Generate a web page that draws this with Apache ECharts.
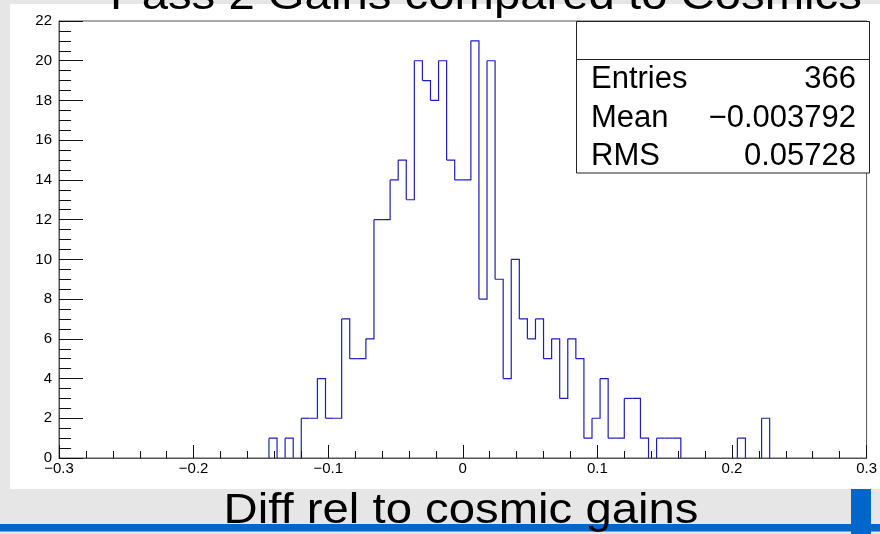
<!DOCTYPE html>
<html>
<head>
<meta charset="utf-8">
<script src="https://cdn.jsdelivr.net/npm/echarts@6/dist/echarts.min.js"></script>
<style>
  html, body { margin: 0; padding: 0; background: #e6e6e6; }
  #chart { width: 880px; height: 534px; }
</style>
</head>
<body>
<div id="chart"></div>
<script>
// Histogram binning
const xMin = -0.3;
const xMax = 0.3;
const binWidth = 0.006;

// Entries per bin (100 bins from -0.3 to 0.3)
const counts = [
  0, 0, 0, 0, 0, 0, 0, 0, 0, 0,
  0, 0, 0, 0, 0, 0, 0, 0, 0, 0,
  0, 0, 0, 0, 0, 0, 1, 0, 1, 0,
  2, 2, 4, 2, 2, 7, 5, 5, 6, 12,
  12, 14, 15, 13, 20, 19, 18, 20, 15, 14,
  14, 21, 8, 20, 9, 4, 10, 7, 6, 7,
  5, 6, 3, 6, 5, 1, 2, 4, 1, 1,
  3, 3, 1, 0, 1, 1, 1, 0, 0, 0,
  0, 0, 0, 0, 1, 0, 0, 2, 0, 0,
  0, 0, 0, 0, 0, 0, 0, 0, 0, 0
];

// Axis settings
const xInterval = 0.1;
const yMax = 22;
const yInterval = 2;

// Texts
const titleText = 'Pass 2 Gains compared to Cosmics';
const xAxisTitle = 'Diff rel to cosmic gains';
const statsLabels = ['Entries', 'Mean', 'RMS'];
const statsValues = ['366', '\u22120.003792', '0.05728'];

const FONT = '"Liberation Sans", Arial, Helvetica, sans-serif';
const LINE_COLOR = '#1f1fb4';

// [left edge, right edge, count, count of next bin]
const binData = counts.map((c, k) => [
  xMin + k * binWidth,
  xMin + (k + 1) * binWidth,
  c,
  k + 1 < counts.length ? counts[k + 1] : 0
]);

function fmtTick(v) {
  const s = String(+(+v).toFixed(3));
  return s.replace('-', '\u2212');
}

const chart = echarts.init(document.getElementById('chart'), null, { renderer: 'canvas' });

const statsRows = [79.5, 118, 156.5];
const graphics = [
  // pad
  { type: 'rect', z: -100, shape: { x: 10, y: 4, width: 870, height: 485 }, style: { fill: '#ffffff' }, silent: true },
  // bottom accent
  { type: 'rect', z: -50, shape: { x: 0, y: 524, width: 880, height: 7.5 }, style: { fill: '#0066cc' }, silent: true },
  { type: 'rect', z: -50, shape: { x: 851, y: 489, width: 20, height: 45 }, style: { fill: '#0066cc' }, silent: true },
  // title
  { type: 'text', z: 50, x: 486, y: -2.5, scaleX: 1.1,
    style: { text: titleText, x: 0, y: 0, align: 'center', verticalAlign: 'middle', font: '43px ' + FONT, fill: '#000' } },
  // x axis title
  { type: 'text', z: 50, x: 461, y: 511.5, scaleX: 1.1,
    style: { text: xAxisTitle, x: 0, y: 0, align: 'center', verticalAlign: 'middle', font: '43px ' + FONT, fill: '#000' } },
  // stats box
  { type: 'rect', z: 40, shape: { x: 576.5, y: 21.5, width: 293, height: 151.5 }, style: { fill: '#ffffff', stroke: '#222', lineWidth: 1 } },
  { type: 'line', z: 41, shape: { x1: 576.5, y1: 59.5, x2: 869.5, y2: 59.5 }, style: { stroke: '#222', lineWidth: 1 } }
];
statsLabels.forEach((lab, i) => {
  graphics.push({ type: 'text', z: 42, x: 591, y: statsRows[i],
    style: { text: lab, align: 'left', verticalAlign: 'middle', font: '31px ' + FONT, fill: '#000' } });
  graphics.push({ type: 'text', z: 42, x: 856, y: statsRows[i],
    style: { text: statsValues[i], align: 'right', verticalAlign: 'middle', font: '31px ' + FONT, fill: '#000' } });
});

const option = {
  animation: false,
  backgroundColor: 'transparent',
  grid: {
    left: 59, right: 11, top: 21, bottom: 76,
    show: true, backgroundColor: '#ffffff', borderColor: '#555', borderWidth: 1
  },
  xAxis: {
    type: 'value',
    min: xMin, max: xMax, interval: xInterval,
    z: 5,
    axisLine: { show: true, onZero: false, lineStyle: { color: '#555', width: 1 } },
    axisTick: { show: true, inside: true, length: 13, lineStyle: { color: '#111' } },
    minorTick: { show: true, splitNumber: 5, length: 7, lineStyle: { color: '#111' } },
    splitLine: { show: false },
    axisLabel: { show: true, margin: 3, fontFamily: FONT, fontSize: 15, color: '#000', formatter: fmtTick, showMinLabel: true, showMaxLabel: true }
  },
  yAxis: {
    type: 'value',
    min: 0, max: yMax, interval: yInterval,
    z: 5,
    axisLine: { show: true, onZero: false, lineStyle: { color: '#555', width: 1 } },
    axisTick: { show: true, inside: true, length: 24, lineStyle: { color: '#111' } },
    minorTick: { show: true, splitNumber: 4, length: 12, lineStyle: { color: '#111' } },
    splitLine: { show: false },
    axisLabel: { show: true, margin: 7, fontFamily: FONT, fontSize: 15, color: '#000' }
  },
  graphic: { elements: graphics },
  series: [{
    type: 'custom',
    data: binData,
    encode: { x: [0, 1], y: 2 },
    z: 3,
    renderItem: function (params, api) {
      const x0 = api.value(0), x1 = api.value(1), c = api.value(2), cn = api.value(3);
      let pts;
      if (c > 0) {
        pts = [api.coord([x0, c]), api.coord([x1, c]), api.coord([x1, cn])];
      } else if (cn > 0) {
        pts = [api.coord([x1, 0]), api.coord([x1, cn])];
      } else {
        return { type: 'group', children: [] };
      }
      return {
        type: 'polyline',
        shape: { points: pts },
        style: { stroke: LINE_COLOR, fill: null, lineWidth: 1.2 }
      };
    }
  }]
};

chart.setOption(option);
</script>
</body>
</html>
